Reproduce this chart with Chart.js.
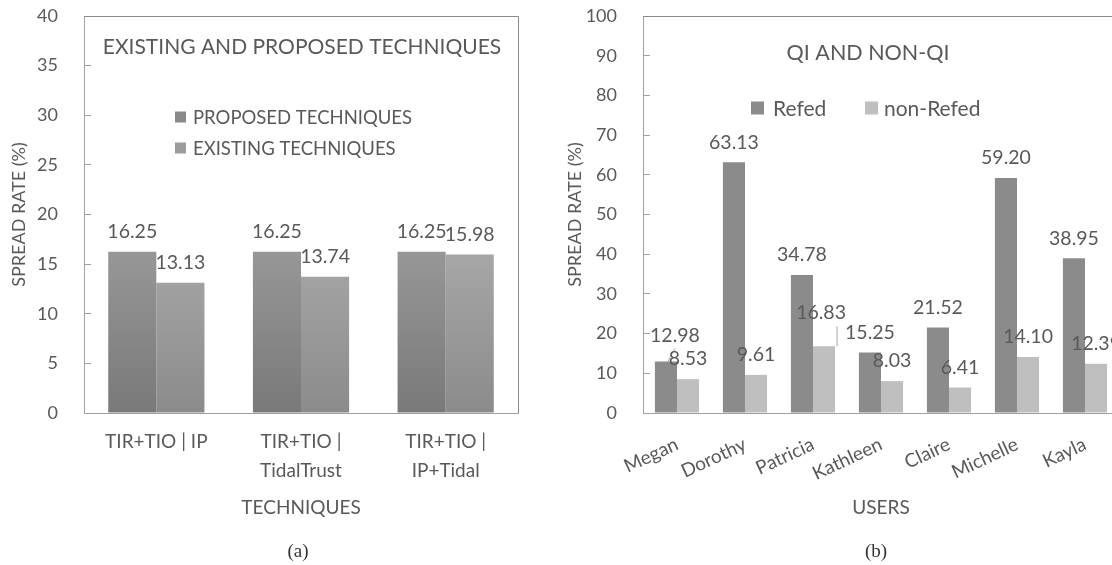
<!DOCTYPE html>
<html>
<head>
<meta charset="utf-8">
<script src="https://cdn.jsdelivr.net/npm/chart.js@4.4.1/dist/chart.umd.min.js"></script>
<style>
  html, body { margin: 0; padding: 0; overflow: hidden; background: #fff; width: 1112px; height: 565px; }
  #wrapA { position: absolute; left: 0; top: 0; }
  #wrapB { position: absolute; left: 556px; top: 0; }
  .cap { position: absolute; top: 540px; width: 60px; text-align: center;
         font: 19px "Liberation Serif", serif; color: #333; }
</style>
</head>
<body>
<div id="wrapA"><canvas id="chartA" width="556" height="565"></canvas></div>
<div id="wrapB"><canvas id="chartB" width="600" height="565"></canvas></div>
<div class="cap" style="left:268px">(a)</div>
<div class="cap" style="left:846px">(b)</div>
<script>
// (a) existing vs proposed
const techniques = [['TIR+TIO | IP'], ['TIR+TIO |', 'TidalTrust'], ['TIR+TIO |', 'IP+Tidal']];
const proposed = [16.25, 16.25, 16.25];
const existing = [13.13, 13.74, 15.98];

// (b) QI / non-QI per user
const users = ['Megan', 'Dorothy', 'Patricia', 'Kathleen', 'Claire', 'Michelle', 'Kayla'];
const refed = [12.98, 63.13, 34.78, 15.25, 21.52, 59.20, 38.95];
const nonRefed = [8.53, 9.61, 16.83, 8.03, 6.41, 14.10, 12.39];

const TXT = '#595959';
Chart.defaults.font.family = 'Lato, "Open Sans", sans-serif';
Chart.defaults.color = TXT;

// vertical shading like the excel bars
function shade(top, bottom) {
  return function (ctx) {
    const ch = ctx.chart;
    if (!ch.chartArea) return bottom;
    const y = ch.scales.y;
    const g = ch.ctx.createLinearGradient(0, y.getPixelForValue(0), 0, y.getPixelForValue(17));
    g.addColorStop(0, bottom);
    g.addColorStop(1, top);
    return g;
  };
}

// fixed axis sizes; drop the tick padding chart.js adds above/below the y labels
function fixY(w) {
  return function (s) { s.width = w; s.paddingTop = 10; s.paddingBottom = 10; };
}

// numbers above the bars (a couple were dragged off their bar, with a leader line)
const valueLabels = {
  id: 'valueLabels',
  afterDatasetsDraw(chart, args, o) {
    const c = chart.ctx;
    const moved = o.moved || {};
    c.save();
    c.font = '19.5px Lato';
    c.textAlign = 'center';
    c.textBaseline = 'middle';
    chart.data.datasets.forEach((ds, i) => {
      chart.getDatasetMeta(i).data.forEach((bar, j) => {
        const m = moved[i + ':' + j];
        let x = bar.x, y = bar.y - 20;
        if (m) {
          x += m.dx; y += m.dy;
          c.strokeStyle = '#a6a6a6';
          c.lineWidth = 1;
          c.beginPath();
          c.moveTo(bar.x + m.lx0, bar.y);
          c.lineTo(bar.x + m.lx1, y + 13);
          c.stroke();
        }
        c.fillStyle = TXT;
        c.fillText(ds.data[j].toFixed(2), x, y);
      });
    });
    c.restore();
  }
};

// box frame, title and legend that sit inside the plot
const decor = {
  id: 'decor',
  afterDraw(chart, args, o) {
    const c = chart.ctx, a = chart.chartArea;
    c.save();
    c.strokeStyle = '#8a8a8a';
    c.lineWidth = 1;
    c.beginPath();
    c.moveTo(a.left, a.top + 0.5);
    c.lineTo(a.right + 0.5, a.top + 0.5);
    c.lineTo(a.right + 0.5, a.bottom);
    c.stroke();

    c.fillStyle = TXT;
    c.font = o.titleFont;
    c.textAlign = 'center';
    c.textBaseline = 'middle';
    c.fillText(o.title, o.titleX, o.titleY);

    c.textAlign = 'left';
    c.font = o.legendFont;
    o.legend.forEach((it, i) => {
      c.fillStyle = it.color;
      c.fillRect(it.x, it.y - it.size / 2, it.size, it.size);
      c.fillStyle = TXT;
      c.fillText(chart.data.datasets[i].label, it.textX, it.y + 1);
    });
    c.restore();
  }
};

new Chart(document.getElementById('chartA'), {
  type: 'bar',
  data: {
    labels: techniques,
    datasets: [
      { label: 'PROPOSED TECHNIQUES', data: proposed, backgroundColor: shade('#989898', '#797979'),
        barPercentage: 1, categoryPercentage: 0.665 },
      { label: 'EXISTING TECHNIQUES', data: existing, backgroundColor: shade('#a8a8a8', '#8b8b8b'),
        barPercentage: 1, categoryPercentage: 0.665 }
    ]
  },
  options: {
    responsive: false,
    animation: false,
    layout: { padding: { left: 0, top: 16, right: 38, bottom: 42 } },
    plugins: {
      legend: { display: false },
      tooltip: { enabled: false },
      decor: {
        title: 'EXISTING AND PROPOSED TECHNIQUES', titleFont: '21px Lato', titleX: 302, titleY: 47,
        legendFont: '18.5px Lato',
        legend: [
          { color: '#8a8a8a', x: 175, y: 117, size: 11, textX: 193 },
          { color: '#9c9c9c', x: 175, y: 148, size: 11, textX: 193 }
        ]
      }
    },
    scales: {
      x: {
        grid: { display: false, drawTicks: false },
        border: { color: '#a0a0a0' },
        ticks: { font: { size: 19, lineHeight: 1.5 }, padding: 15, maxRotation: 0, autoSkip: false },
        title: { display: true, text: 'TECHNIQUES', font: { size: 19 }, padding: { top: 0, bottom: 4 } },
        afterFit(s) { s.height = 110; }
      },
      y: {
        min: 0, max: 40,
        ticks: { stepSize: 5, font: { size: 18 }, padding: 33 },
        grid: { drawOnChartArea: false, tickLength: -7, color: '#a0a0a0' },
        border: { color: '#a0a0a0' },
        title: { display: true, text: 'SPREAD RATE (%)', font: { size: 18 }, padding: { top: 8, bottom: 0 } },
        afterFit: fixY(84)
      }
    }
  },
  plugins: [valueLabels, decor]
});

new Chart(document.getElementById('chartB'), {
  type: 'bar',
  data: {
    labels: users,
    datasets: [
      { label: 'Refed', data: refed, backgroundColor: '#8b8b8b',
        barPercentage: 1, categoryPercentage: 0.65 },
      { label: 'non-Refed', data: nonRefed, backgroundColor: '#bfbfbf',
        barPercentage: 1, categoryPercentage: 0.65 }
    ]
  },
  options: {
    responsive: false,
    animation: false,
    layout: { padding: { left: 0, top: 16, right: 37, bottom: 42 } },
    plugins: {
      legend: { display: false },
      tooltip: { enabled: false },
      valueLabels: {
        moved: {
          '0:0': { dx: 9, dy: -6, lx0: 2, lx1: 9 },
          '1:2': { dx: -3, dy: -13, lx0: 13, lx1: 13 }
        }
      },
      decor: {
        title: 'QI AND NON-QI', titleFont: '21.5px Lato', titleX: 312, titleY: 53,
        legendFont: '21px Lato',
        legend: [
          { color: '#8b8b8b', x: 195, y: 108, size: 13, textX: 217 },
          { color: '#bfbfbf', x: 309, y: 108, size: 13, textX: 328 }
        ]
      }
    },
    scales: {
      x: {
        grid: { display: false, drawTicks: false },
        border: { color: '#a0a0a0' },
        ticks: { font: { size: 19 }, padding: 20, minRotation: 25, maxRotation: 25, autoSkip: false },
        title: { display: true, text: 'USERS', font: { size: 19 }, padding: { top: 0, bottom: 4 } },
        afterFit(s) { s.height = 110; }
      },
      y: {
        min: 0, max: 100,
        ticks: { stepSize: 10, font: { size: 18 }, padding: 33 },
        grid: { drawOnChartArea: false, tickLength: -7, color: '#a0a0a0' },
        border: { color: '#a0a0a0' },
        title: { display: true, text: 'SPREAD RATE (%)', font: { size: 18 }, padding: { top: 8, bottom: 0 } },
        afterFit: fixY(87)
      }
    }
  },
  plugins: [valueLabels, decor]
});
</script>
</body>
</html>
